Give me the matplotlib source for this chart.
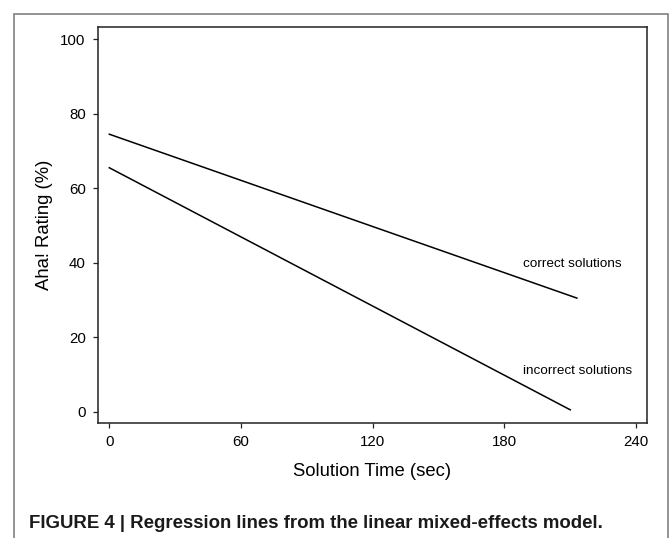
import matplotlib
matplotlib.use("Agg")
import matplotlib.pyplot as plt
from matplotlib.patches import Rectangle

plt.rcParams['font.family'] = ['Liberation Sans', 'DejaVu Sans']

# regression lines (solution time in sec, aha rating in %)
time_correct = [0, 213]
rating_correct = [74.5, 30.5]
time_incorrect = [0, 210]
rating_incorrect = [65.5, 0.5]

x_ticks = [0, 60, 120, 180, 240]
y_ticks = [0, 20, 40, 60, 80, 100]

W, H = 669, 538
fig = plt.figure(figsize=(W / 100, H / 100), dpi=100)
ax = fig.add_axes([98.3 / W, 1 - 422.7 / H, (646.7 - 98.3) / W, (422.7 - 27.3) / H])

ax.plot(time_correct, rating_correct, color='black', lw=1.1)
ax.plot(time_incorrect, rating_incorrect, color='black', lw=1.1)

ax.text(188.3, 39.7, "correct solutions", fontsize=9.7, va='center', ha='left')
ax.text(188.3, 10.9, "incorrect solutions", fontsize=9.7, va='center', ha='left')

ax.set_xlim(-5.0, 244.8)
ax.set_ylim(-2.95, 103.2)
ax.set_xticks(x_ticks)
ax.set_yticks(y_ticks)
ax.tick_params(labelsize=10.8, length=3.6, width=0.9, pad=5.5, color='#222222')
for s in ax.spines.values():
    s.set_linewidth(1.1)
    s.set_color('#222222')

ax.set_xlabel("Solution Time (sec)", fontsize=13.3, va='center')
ax.set_ylabel("Aha! Rating (%)", fontsize=13.3, va='center')
ax.xaxis.set_label_coords(0.5, -0.124)
ax.yaxis.set_label_coords(-0.099, 0.5)

# outer frame of the figure panel
fig.patches.append(Rectangle((14 / W, -0.02), (668 - 14) / W, 1.02 - 14 / H,
                             transform=fig.transFigure, fill=False,
                             edgecolor='#808080', lw=1.2))

fig.text(29.3 / W, 1 - 523 / H,
         "FIGURE 4 | Regression lines from the linear mixed-effects model.",
         fontsize=13.4, fontweight='bold', va='center', ha='left', color='#1a1a1a')

fig.savefig("out.png", dpi=100)
